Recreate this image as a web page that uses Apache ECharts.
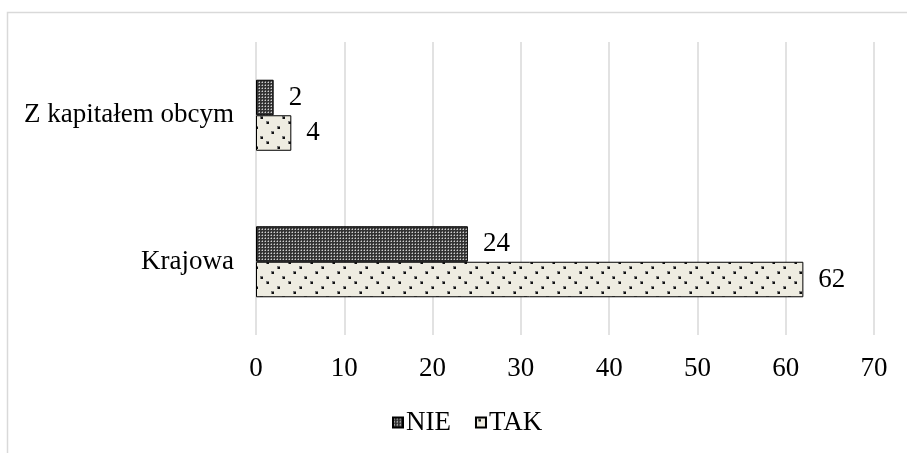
<!DOCTYPE html>
<html>
<head>
<meta charset="utf-8">
<script src="https://cdn.jsdelivr.net/npm/echarts@6/dist/echarts.min.js"></script>
<style>
  html, body { margin: 0; padding: 0; background: #fff; }
  #chart { width: 907px; height: 453px; }
</style>
</head>
<body>
<div id="chart"></div>
<script>
// Categories (bottom to top on the y axis) and values per answer
const categories = ['Krajowa', 'Z kapitałem obcym'];
const seriesNames = ['NIE', 'TAK'];
const valuesNIE = [24, 2];
const valuesTAK = [62, 4];
const axisTicks = [0, 10, 20, 30, 40, 50, 60, 70];

const FONT = '"Liberation Serif", "Times New Roman", serif';
const FONT_SIZE = 27;

// Fine dark checker fill
function checkerPattern() {
  const c = document.createElement('canvas');
  c.width = 3; c.height = 3;
  const g = c.getContext('2d');
  g.fillStyle = '#333';
  g.fillRect(0, 0, 3, 3);
  g.fillStyle = '#d0d0d0';
  g.fillRect(1, 1, 1, 1);
  g.fillStyle = '#7a7a7a';
  g.fillRect(0, 1, 1, 1);
  g.fillRect(1, 0, 1, 1);
  return c;
}

// Light fill with scattered dark dots
function dotPattern() {
  const c = document.createElement('canvas');
  c.width = 22; c.height = 20;
  const g = c.getContext('2d');
  g.fillStyle = '#eeece1';
  g.fillRect(0, 0, 22, 20);
  const dots = [[3, 2], [14, 7], [8, 12], [19, 17]];
  dots.forEach(([x, y]) => {
    g.fillStyle = '#777';
    g.fillRect(x - 1, y - 1, 3, 3);
    g.fillStyle = '#111';
    g.fillRect(x, y, 2, 2);
  });
  return c;
}

const chart = echarts.init(document.getElementById('chart'), null, { renderer: 'canvas' });

const labelStyle = {
  show: true,
  position: 'right',
  distance: 15,
  color: '#000',
  fontFamily: FONT,
  fontSize: FONT_SIZE
};

chart.setOption({
  animation: false,
  backgroundColor: '#fff',
  graphic: [{
    type: 'rect',
    shape: { x: 7.5, y: 12.5, width: 1000, height: 1000 },
    style: { fill: 'none', stroke: '#d9d9d9', lineWidth: 1.5 },
    silent: true
  }],
  grid: { left: 256, right: 33, top: 42, bottom: 118 },
  legend: {
    data: seriesNames,
    left: 387,
    top: 404,
    itemWidth: 10,
    itemHeight: 10,
    itemGap: 24,
    icon: 'rect',
    textStyle: { color: '#000', fontFamily: FONT, fontSize: FONT_SIZE, padding: [0, 0, 0, -2] }
  },
  xAxis: {
    type: 'value',
    min: axisTicks[0],
    max: axisTicks[axisTicks.length - 1],
    interval: 10,
    axisLine: { show: false },
    axisTick: { show: false },
    axisLabel: { color: '#000', fontFamily: FONT, fontSize: FONT_SIZE, margin: 20 },
    splitLine: { show: true, lineStyle: { color: '#d9d9d9', width: 1.5 } }
  },
  yAxis: {
    type: 'category',
    data: categories,
    axisLine: { show: false },
    axisTick: { show: false },
    axisLabel: { color: '#000', fontFamily: FONT, fontSize: FONT_SIZE, margin: 22 },
    splitLine: { show: false }
  },
  series: [
    {
      name: 'NIE',
      type: 'bar',
      data: valuesNIE,
      barGap: '0%',
      barCategoryGap: '51.5%',
      itemStyle: {
        color: { image: checkerPattern(), repeat: 'repeat' },
        borderColor: '#000',
        borderWidth: 1
      },
      label: labelStyle
    },
    {
      name: 'TAK',
      type: 'bar',
      data: valuesTAK,
      barGap: '0%',
      barCategoryGap: '51.5%',
      itemStyle: {
        color: { image: dotPattern(), repeat: 'repeat' },
        borderColor: '#000',
        borderWidth: 1
      },
      label: labelStyle
    }
  ]
});
</script>
</body>
</html>
